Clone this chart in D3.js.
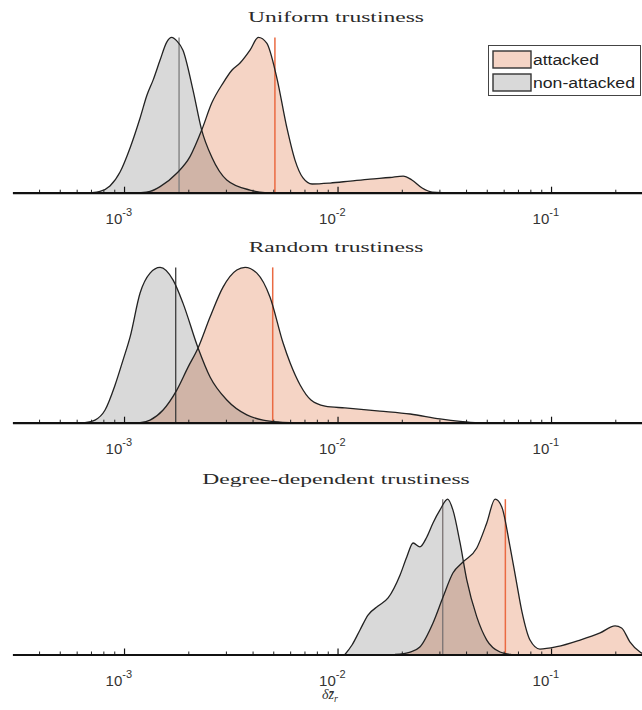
<!DOCTYPE html>
<html><head><meta charset="utf-8">
<script src="https://cdn.jsdelivr.net/npm/d3@7"></script>
<style>body{margin:0;background:#fff} svg{display:block}</style>
</head><body><svg id="chart" width="642" height="710"></svg>
<script>
// ---------- data ----------
const panelTitles = ["Uniform trustiness", "Random trustiness", "Degree-dependent trustiness"];
const seriesNames = ["attacked", "non-attacked"];
const majorTicks = [1e-3, 1e-2, 1e-1];
const tickExponents = ["-3", "-2", "-1"];

// Panel 1: uniform trustiness (x = delta z, y = relative density)
const attackedX1 = [1.2e-3, 1.324e-3, 1.475e-3, 1.766e-3, 2.037e-3, 2.311e-3, 2.575e-3, 2.909e-3, 3.206e-3, 3.494e-3, 3.891e-3, 4.256e-3, 4.66e-3, 5.19e-3, 5.78e-3, 6.32e-3, 6.89e-3, 7.60e-3, 9.23e-3, 1.145e-2, 1.42e-2, 1.76e-2, 2.03e-2, 2.23e-2, 2.49e-2, 2.77e-2, 3.1e-2];
const attackedY1 = [0, 0.008, 0.039, 0.125, 0.232, 0.403, 0.577, 0.706, 0.790, 0.835, 0.918, 1.0, 0.963, 0.743, 0.423, 0.210, 0.095, 0.056, 0.062, 0.075, 0.088, 0.098, 0.107, 0.082, 0.030, 0.004, 0];
const nonAttackedX1 = [7.08e-4, 7.72e-4, 8.59e-4, 9.58e-4, 1.067e-3, 1.189e-3, 1.281e-3, 1.368e-3, 1.475e-3, 1.585e-3, 1.672e-3, 1.771e-3, 1.888e-3, 2.104e-3, 2.311e-3, 2.575e-3, 3.028e-3, 3.891e-3, 4.57e-3, 5.2e-3];
const nonAttackedY1 = [0, 0.008, 0.043, 0.133, 0.288, 0.481, 0.629, 0.725, 0.854, 0.970, 1.0, 0.976, 0.918, 0.661, 0.403, 0.230, 0.082, 0.017, 0.001, 0];

// Panel 2: random trustiness
const attackedX2 = [1.189e-3, 1.324e-3, 1.524e-3, 1.766e-3, 1.995e-3, 2.222e-3, 2.529e-3, 2.909e-3, 3.374e-3, 3.69e-3, 4.19e-3, 4.83e-3, 5.56e-3, 6.00e-3, 6.68e-3, 7.51e-3, 8.74e-3, 1.083e-2, 1.58e-2, 2.19e-2, 3.02e-2, 3.75e-2, 4.41e-2];
const attackedY2 = [0, 0.017, 0.082, 0.210, 0.358, 0.481, 0.680, 0.873, 0.983, 1.0, 0.963, 0.808, 0.513, 0.384, 0.243, 0.146, 0.107, 0.095, 0.075, 0.056, 0.024, 0.008, 0];
const nonAttackedX2 = [6.56e-4, 7.31e-4, 8.15e-4, 9.08e-4, 9.89e-4, 1.067e-3, 1.189e-3, 1.324e-3, 1.475e-3, 1.698e-3, 1.888e-3, 2.222e-3, 2.529e-3, 3.03e-3, 3.76e-3, 4.48e-3, 5.38e-3, 6.3e-3];
const nonAttackedY2 = [0, 0.017, 0.082, 0.243, 0.403, 0.551, 0.835, 0.963, 1.0, 0.918, 0.770, 0.481, 0.294, 0.146, 0.050, 0.017, 0.004, 0];

// Panel 3: degree-dependent trustiness
const attackedX3 = [1.858e-2, 2.19e-2, 2.43e-2, 2.80e-2, 3.12e-2, 3.47e-2, 3.87e-2, 4.49e-2, 5.00e-2, 5.47e-2, 5.88e-2, 6.43e-2, 6.86e-2, 7.31e-2, 7.97e-2, 8.87e-2, 1.064e-1, 1.368e-1, 1.698e-1, 1.995e-1, 2.14e-1, 2.34e-1, 2.61e-1, 2.75e-1];
const attackedY3 = [0, 0.016, 0.048, 0.203, 0.370, 0.525, 0.596, 0.686, 0.847, 1.0, 0.950, 0.693, 0.480, 0.274, 0.093, 0.035, 0.050, 0.093, 0.139, 0.184, 0.171, 0.082, 0.016, 0];
const nonAttackedX3 = [1.083e-2, 1.169e-2, 1.274e-2, 1.389e-2, 1.548e-2, 1.725e-2, 1.963e-2, 2.11e-2, 2.26e-2, 2.43e-2, 2.62e-2, 2.80e-2, 3.02e-2, 3.28e-2, 3.47e-2, 3.75e-2, 4.03e-2, 4.49e-2, 5.00e-2, 5.77e-2, 6.5e-2];
const nonAttackedY3 = [0, 0.061, 0.158, 0.254, 0.312, 0.364, 0.512, 0.628, 0.718, 0.693, 0.757, 0.847, 0.931, 1.0, 0.931, 0.718, 0.480, 0.242, 0.093, 0.016, 0];

// mean markers (vertical lines)
const meanAttacked = [5.09e-3, 4.97e-3, 6.11e-2];
const meanNonAttacked = [1.81e-3, 1.746e-3, 3.11e-2];

// ---------- layout / style ----------
const baselines = [192.7, 422.7, 654.5];
const plotH = 155.3;
const meanNonColors = ["#7d7d7d", "#3c3c3c", "#7a7272"];
const attFill = "#d95319", attOpacity = 0.25;
const nonFill = "#000000", nonOpacity = 0.15;
const orangeLine = "#ea6a42";

const svg = d3.select("#chart");
const x = d3.scaleLog().domain([3e-4, 0.3]).range([12.4, 652.9]);

const panels = [
  {att: d3.zip(attackedX1, attackedY1), non: d3.zip(nonAttackedX1, nonAttackedY1)},
  {att: d3.zip(attackedX2, attackedY2), non: d3.zip(nonAttackedX2, nonAttackedY2)},
  {att: d3.zip(attackedX3, attackedY3), non: d3.zip(nonAttackedX3, nonAttackedY3)}
];

let titleStretch = null;

panels.forEach((p, i) => {
  const b = baselines[i];
  const y = d3.scaleLinear().domain([0, 1]).range([b, b - plotH]);
  const g = svg.append("g");
  const area = d3.area().x(d => x(d[0])).y0(y(0)).y1(d => y(d[1])).curve(d3.curveMonotoneX);
  const line = d3.line().x(d => x(d[0])).y(d => y(d[1])).curve(d3.curveMonotoneX);

  g.append("path").attr("d", area(p.att)).attr("fill", attFill).attr("fill-opacity", attOpacity);
  g.append("path").attr("d", area(p.non)).attr("fill", nonFill).attr("fill-opacity", nonOpacity);

  // mean lines
  g.append("line").attr("x1", x(meanNonAttacked[i])).attr("x2", x(meanNonAttacked[i]))
    .attr("y1", y(0)).attr("y2", y(1)).attr("stroke", meanNonColors[i]).attr("stroke-width", 1.3);
  g.append("line").attr("x1", x(meanAttacked[i])).attr("x2", x(meanAttacked[i]))
    .attr("y1", y(0)).attr("y2", y(1)).attr("stroke", orangeLine).attr("stroke-width", 1.5);

  g.append("path").attr("d", line(p.att)).attr("fill", "none").attr("stroke", "#222").attr("stroke-width", 1.3);
  g.append("path").attr("d", line(p.non)).attr("fill", "none").attr("stroke", "#222").attr("stroke-width", 1.3);

  // axis: minor ticks
  const minor = x.ticks().filter(v => !majorTicks.some(m => Math.abs(m - v) / m < 1e-6) && v > 3.01e-4 && v < 0.299);
  const minorAxis = d3.axisBottom(x).tickValues(minor).tickSize(-3).tickSizeOuter(0).tickFormat("");
  const ga = g.append("g").attr("transform", `translate(0,${b})`).call(minorAxis);
  ga.select(".domain").remove();
  ga.selectAll(".tick line").attr("stroke", "#222").attr("stroke-width", 1);

  const majorAxis = d3.axisBottom(x).tickValues(majorTicks).tickSize(-6).tickSizeOuter(0).tickFormat("");
  const gm = g.append("g").attr("transform", `translate(0,${b})`).call(majorAxis);
  gm.select(".domain").attr("stroke", "#111").attr("stroke-width", 2.2);
  gm.selectAll(".tick line").attr("stroke", "#111").attr("stroke-width", 1.2);
  gm.selectAll(".tick text").remove();
  gm.selectAll(".tick").each(function(d, k) {
    const t = d3.select(this).append("text")
      .attr("x", -19).attr("y", 31)
      .attr("fill", "#333").attr("font-family", "Liberation Sans, Arial, sans-serif")
      .attr("font-size", 15).attr("text-anchor", "start");
    t.append("tspan").text("10");
    t.append("tspan").attr("dy", -8).attr("font-size", 11).text(tickExponents[k]);
  });

  // title
  const tt = svg.append("text").attr("x", 336).attr("y", b - 171)
    .attr("text-anchor", "middle").attr("font-family", "Liberation Serif, Times New Roman, serif")
    .attr("font-size", 14.5).attr("fill", "#2a2a2a").text(panelTitles[i]);
  const w = tt.node().getComputedTextLength();
  if (titleStretch === null) titleStretch = 176 / w;
  tt.attr("textLength", w * titleStretch).attr("lengthAdjust", "spacingAndGlyphs");
});

// legend
const leg = svg.append("g");
leg.append("rect").attr("x", 488.5).attr("y", 45.5).attr("width", 152).attr("height", 50)
  .attr("fill", "#fff").attr("stroke", "#444").attr("stroke-width", 1);
const legRows = [
  {name: seriesNames[0], fill: attFill, op: attOpacity, y: 51, tw: 66},
  {name: seriesNames[1], fill: nonFill, op: nonOpacity, y: 74, tw: 102}
];
legRows.forEach(r => {
  leg.append("rect").attr("x", 493).attr("y", r.y).attr("width", 38).attr("height", 17)
    .attr("fill", "#fff").attr("stroke", "none");
  leg.append("rect").attr("x", 493).attr("y", r.y).attr("width", 38).attr("height", 17)
    .attr("fill", r.fill).attr("fill-opacity", r.op).attr("stroke", "#333").attr("stroke-width", 1.4);
  leg.append("text").attr("x", 533).attr("y", r.y + 13.5)
    .attr("font-family", "Liberation Sans, Arial, sans-serif").attr("font-size", 14).attr("fill", "#222")
    .attr("textLength", r.tw).attr("lengthAdjust", "spacingAndGlyphs").text(r.name);
});

// x label: delta z-bar sub r
const xl = svg.append("text").attr("x", 330).attr("y", 699).attr("text-anchor", "middle")
  .attr("font-family", "Liberation Serif, Times New Roman, serif").attr("font-style", "italic")
  .attr("font-size", 14).attr("fill", "#333");
xl.append("tspan").text("δ");
xl.append("tspan").text("z\u0304");
xl.append("tspan").attr("font-size", 10).attr("dy", 3).text("r");
</script>
</body></html>
